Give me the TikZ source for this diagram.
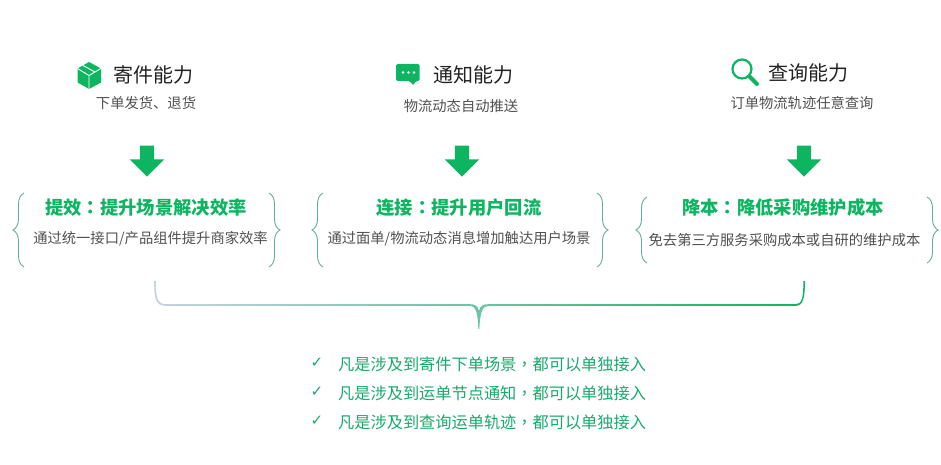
\documentclass[tikz,border=0pt]{standalone}
\usepackage{fontspec}
\setmainfont{Noto Sans CJK SC}
\newfontfamily\tcfont{Noto Sans CJK TC}
\newfontfamily\symfont{DejaVu Sans}
\usetikzlibrary{arrows.meta, positioning, shapes.arrows, decorations.pathreplacing}
\definecolor{mygreen}{HTML}{0DB561}
\definecolor{bracegreen}{HTML}{62AF8E}
\definecolor{listgreen}{HTML}{18A96C}
\definecolor{titlegray}{HTML}{222222}
\definecolor{subgray}{HTML}{505050}
\definecolor{braceblue}{HTML}{C6D2E0}
\newcommand{\colonmark}{{\tcfont ：}}
\newcommand{\commamark}{{\tcfont ，}}
\begin{document}
\begin{tikzpicture}[x=1pt,y=-1pt]
\tikzset{title/.style={inner sep=0,text=titlegray,font=\fontsize{20}{20}\selectfont},
sub/.style={inner sep=0,text=subgray,font=\fontsize{14.3}{14.3}\selectfont},
head/.style={inner sep=0,text=mygreen,font=\fontsize{18.3}{18.3}\selectfont\bfseries},
item/.style={inner sep=0,text=listgreen,anchor=west,font=\fontsize{16.2}{16.2}\selectfont},
tick/.style={inner sep=0,text=listgreen,font=\symfont\fontsize{15}{15}\selectfont},
downarrow/.style={shape=single arrow,fill=mygreen,shape border rotate=270,inner sep=7pt,outer sep=0,
  single arrow head extend=10pt,single arrow head indent=0pt,minimum height=31pt},
curly/.style={draw=bracegreen,line width=.9pt,decorate,decoration={brace,amplitude=11pt}}}
\useasboundingbox (0,0) rectangle (941,465);
% titles
\node[title] (jtitle) at (153,75) {寄件能力};
\node[title] (ttitle) at (473,75) {通知能力};
\node[title] (ctitle) at (808,73) {查询能力};
\node[sub] (jsub) at (146,103) {下单发货、退货};
\node[sub] (tsub) at (461,106) {物流动态自动推送};
\node[sub] (csub) at (802,103) {订单物流轨迹任意查询};

% icons
\fill[mygreen] (89,62) -- (101,68.5) -- (101,82.5) -- (89,89) -- (77.5,82.5) -- (77.5,68.5) -- cycle;
\draw[white,line width=.9pt] (77.5,68.5) -- (89,75.5) -- (101,68.5) (89,75.5) -- (89,89) (83,65.5) -- (95,72);
\fill[mygreen,rounded corners=1.5pt] (396,64) -- (419.5,64) -- (419.5,81) -- (416,81) -- (413,85.5) -- (410,81) -- (396,81) -- cycle;
\fill[white] (403,72.5) circle (1.4) (408.5,72.5) circle (1.4) (414,72.5) circle (1.4);
\draw[mygreen,line width=2.2pt] (742,69) circle (9.5);
\draw[mygreen,line width=4pt,line cap=round] (749.5,76.5) -- (757,84);

% arrows
\node[downarrow] (jarrow) at (147,157.5) {};
\node[downarrow] (tarrow) at (462,157.5) {};
\node[downarrow] (carrow) at (804,157.5) {};

% middle texts
\node[head] (jhead) at (146,208) {提效\colonmark 提升场景解决效率};
\node[sub] (jtext) at (150.5,239) {通过统一接口/产品组件提升商家效率};
\node[head] (thead) at (459,208) {连接\colonmark 提升用户回流};
\node[sub] (ttext) at (459,239) {通过面单/物流动态消息增加触达用户场景};
\node[head] (chead) at (783,208) {降本\colonmark 降低采购维护成本};
\node[sub] (ctext) at (784.5,240) {免去第三方服务采购成本或自研的维护成本};

% braces
\coordinate (ja) at (24,193);
\coordinate (jb) at (24,267);
\coordinate (jc) at (269,193);
\coordinate (jd) at (269,267);
\coordinate (ta) at (323,193);
\coordinate (tb) at (323,267);
\coordinate (tc) at (597,193);
\coordinate (td) at (597,267);
\coordinate (ca) at (647,197);
\coordinate (cb) at (647,263);
\coordinate (cc) at (927,197);
\coordinate (cd) at (927,263);
\draw[curly] (jb) -- (ja);
\draw[curly] (jc) -- (jd);
\draw[curly] (tb) -- (ta);
\draw[curly] (tc) -- (td);
\draw[curly] (cb) -- (ca);
\draw[curly] (cc) -- (cd);

% big brace
\shade[left color=braceblue,middle color=bracegreen,right color=mygreen]
  (154.2,281) .. controls (154.2,298) and (155,305.8) .. (166,305.8) -- (470,305.8)
  .. controls (476,305.8) and (478,314) .. (478.3,329) -- (479.3,329)
  .. controls (480,314) and (482,305.8) .. (488,305.8) -- (796,305.8)
  .. controls (803,305.8) and (805,298) .. (805,281) -- (803.4,281)
  .. controls (803.4,297) and (802,304.2) .. (796,304.2) -- (488,304.2)
  .. controls (483,304.2) and (480,306) .. (479,311) .. controls (478,306) and (475,304.2) .. (470,304.2)
  -- (166,304.2) .. controls (157,304.2) and (155.8,297) .. (155.8,281) -- cycle;

% list
\node[tick] (tick1) at (317,363) {✓};
\node[tick] (tick2) at (317,392) {✓};
\node[tick] (tick3) at (317,421) {✓};
\node[item] (item1) at (338,364) {凡是涉及到寄件下单场景\commamark 都可以单独接入};
\node[item] (item2) at (338,393) {凡是涉及到运单节点通知\commamark 都可以单独接入};
\node[item] (item3) at (338,422) {凡是涉及到查询运单轨迹\commamark 都可以单独接入};
\end{tikzpicture}
\end{document}
